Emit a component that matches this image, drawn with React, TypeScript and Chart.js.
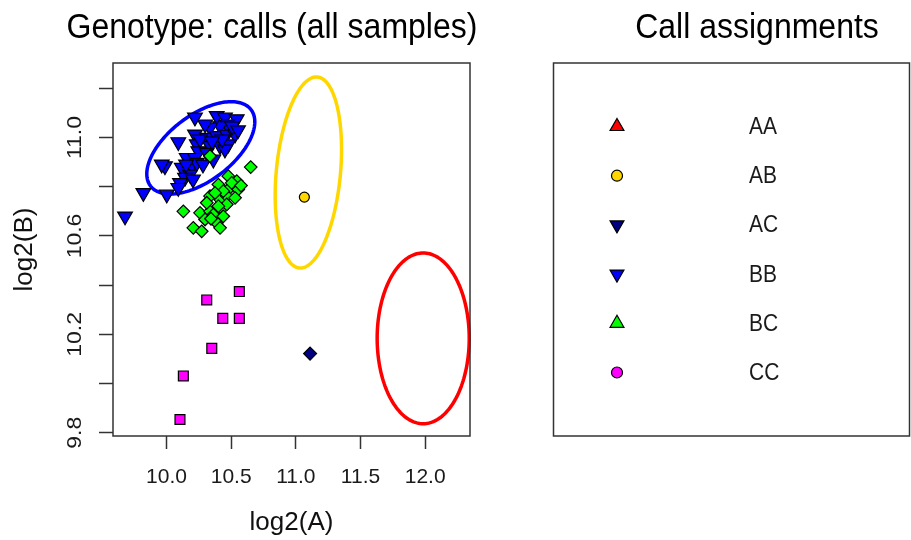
import React, { useEffect, useRef } from 'react';
import { Chart, registerables } from 'chart.js';
import { drawPoint } from 'chart.js/helpers';

Chart.register(...registerables);

const FONT = '"Liberation Sans", Arial, Helvetica, sans-serif';

// ---- data (log2 intensities) ----
const bbX = [10.220, 10.388, 10.452, 10.543, 10.466, 10.414, 10.336, 10.220, 10.311, 10.388, 10.466, 10.530,
  10.091, 10.234, 10.336, 10.414, 10.478, 10.452, 10.246, 10.156, 10.220, 10.311, 10.362, 9.988, 10.118,
  10.195, 10.234, 10.182, 10.143, 10.104, 10.091, 10.002, 9.821, 9.679, 9.963, 10.298, 10.507, 10.259,
  10.429, 10.282, 10.205, 10.151, 10.352, 10.553];
const bbY = [11.082, 11.088, 11.082, 11.075, 11.054, 11.047, 11.041, 11.013, 11.000, 11.007, 11.013, 11.013,
  10.982, 10.973, 10.966, 10.966, 10.973, 10.952, 10.945, 10.918, 10.918, 10.939, 10.911, 10.884, 10.878,
  10.884, 10.898, 10.850, 10.837, 10.816, 10.796, 10.769, 10.775, 10.680, 10.891, 11.054, 11.046, 10.993,
  10.993, 10.891, 10.830, 10.891, 10.985, 11.030];

const bcX = [10.336, 10.651, 10.478, 10.543, 10.401, 10.491, 10.555, 10.336, 10.414, 10.466, 10.530, 10.130,
  10.259, 10.336, 10.427, 10.298, 10.388, 10.414, 10.207, 10.272, 10.362, 10.439, 10.466, 10.504, 10.439,
  10.375, 10.311, 10.401, 10.576, 10.344];
const bcY = [10.925, 10.880, 10.843, 10.823, 10.809, 10.796, 10.789, 10.762, 10.748, 10.762, 10.755, 10.700,
  10.694, 10.700, 10.710, 10.667, 10.653, 10.633, 10.633, 10.619, 10.687, 10.680, 10.728, 10.816, 10.782,
  10.775, 10.735, 10.721, 10.805, 10.670];

const ccX = [10.311, 10.563, 10.435, 10.563, 10.350, 10.130, 10.104];
const ccY = [10.340, 10.374, 10.265, 10.265, 10.143, 10.031, 9.854];

const abX = [11.066];
const abY = [10.758];

const acX = [11.110];
const acY = [10.122];

// ---- axes ----
const xRange = [9.586, 12.347];
const yRange = [9.787, 11.303];
const xTicks = [10.0, 10.5, 11.0, 11.5, 12.0];
const yTicks = [9.8, 10.0, 10.2, 10.4, 10.6, 10.8, 11.0, 11.2];
const yTickLabels = ['9.8', '', '10.2', '', '10.6', '', '11.0', ''];

// ---- cluster ellipses: centre and two conjugate semi-axis vectors (data units) ----
const ellipseColors = ['#0000FF', '#FFD700', '#FF0000'];
const ellipseCenters = [[10.265, 10.958], [11.097, 10.858], [11.985, 10.184]];
const ellipseAxisU = [[0.389, 0.155], [0.0696, 0.388], [0.356, 0]];
const ellipseAxisV = [[-0.152, 0.106], [0.247, -0.0123], [0, 0.347]];

// ---- legend ----
const legendLabels = ['AA', 'AB', 'AC', 'BB', 'BC', 'CC'];
const legendColors = ['#FF0000', '#FFD700', '#000080', '#0000FF', '#00FF00', '#FF00FF'];
const legendShapes = ['triangle', 'circle', 'triangle', 'triangle', 'triangle', 'circle'];
const legendRotation = [0, 0, 180, 180, 0, 0];
const legendRadius = [8, 5.5, 8, 8, 8, 5.5];

const toPts = (xs: number[], ys: number[]) => xs.map((x, i) => ({ x, y: ys[i] }));

// text drawn slightly taller than wide, like the reference rendering
const STRETCH = 1.12;

const ellipsePlugin = {
  id: 'ellipses',
  beforeDatasetsDraw(chart: any) {
    const { ctx, scales } = chart;
    const xs = scales.x;
    const ys = scales.y;
    ctx.save();
    ctx.lineWidth = 3.5;
    for (let e = 0; e < ellipseCenters.length; e++) {
      const [cx, cy] = ellipseCenters[e];
      const u = ellipseAxisU[e];
      const v = ellipseAxisV[e];
      ctx.beginPath();
      for (let k = 0; k <= 180; k++) {
        const t = (k / 180) * Math.PI * 2;
        const dx = cx + Math.cos(t) * u[0] + Math.sin(t) * v[0];
        const dy = cy + Math.cos(t) * u[1] + Math.sin(t) * v[1];
        const px = xs.getPixelForValue(dx);
        const py = ys.getPixelForValue(dy);
        if (k === 0) ctx.moveTo(px, py);
        else ctx.lineTo(px, py);
      }
      ctx.closePath();
      ctx.strokeStyle = ellipseColors[e];
      ctx.stroke();
    }
    ctx.restore();
  },
};

const drawTallText = (ctx: any, text: string, x: number, y: number) => {
  ctx.save();
  ctx.translate(x, y);
  ctx.scale(1, STRETCH);
  ctx.fillText(text, 0, 0);
  ctx.restore();
};

const decorPlugin = {
  id: 'decor',
  afterDraw(chart: any) {
    const { ctx, chartArea, scales } = chart;
    const ys = scales.y;
    ctx.save();
    // plot frame
    ctx.strokeStyle = '#333';
    ctx.lineWidth = 1.5;
    ctx.strokeRect(chartArea.left, chartArea.top, chartArea.right - chartArea.left, chartArea.bottom - chartArea.top);

    // y tick labels (rotated, R style)
    ctx.fillStyle = '#1a1a1a';
    ctx.font = `20px ${FONT}`;
    ctx.textAlign = 'center';
    ctx.textBaseline = 'middle';
    yTicks.forEach((v, i) => {
      const lab = yTickLabels[i];
      if (!lab) return;
      const py = ys.getPixelForValue(v);
      ctx.save();
      ctx.translate(75, py);
      ctx.rotate(-Math.PI / 2);
      ctx.scale(1.15, 1);
      ctx.fillText(lab, 0, 0);
      ctx.restore();
    });

    // titles
    ctx.fillStyle = '#000';
    ctx.font = `32px ${FONT}`;
    ctx.textBaseline = 'alphabetic';
    ctx.textAlign = 'center';
    drawTallText(ctx, 'Genotype: calls (all samples)', 272, 38);
    drawTallText(ctx, 'Call assignments', 757, 38);

    // legend panel
    const lx0 = 553.5;
    const lx1 = 909.5;
    ctx.strokeStyle = '#333';
    ctx.lineWidth = 1.5;
    ctx.strokeRect(lx0, chartArea.top, lx1 - lx0, chartArea.bottom - chartArea.top);
    ctx.font = `21px ${FONT}`;
    ctx.textAlign = 'left';
    ctx.textBaseline = 'middle';
    legendLabels.forEach((lab, i) => {
      const yy = 126.5 + i * 49.2;
      ctx.fillStyle = legendColors[i];
      ctx.strokeStyle = '#000';
      ctx.lineWidth = 1.2;
      drawPoint(ctx, { pointStyle: legendShapes[i], rotation: legendRotation[i], radius: legendRadius[i], borderWidth: 1.2 } as any, 617, yy);
      ctx.fillStyle = '#1a1a1a';
      drawTallText(ctx, lab, 749, yy + 1);
    });
    ctx.restore();
  },
};

export default function App() {
  const ref = useRef<HTMLCanvasElement>(null);
  useEffect(() => {
    if (!ref.current) return;
    const pointBase = { borderColor: '#000', borderWidth: 1.2, pointBorderWidth: 1.2 };
    const chart = new Chart(ref.current, {
      type: 'scatter',
      data: {
        datasets: [
          { label: 'AB', data: toPts(abX, abY), pointStyle: 'circle', pointRadius: 5, backgroundColor: '#FFD700', order: 0, ...pointBase },
          { label: 'AC', data: toPts(acX, acY), pointStyle: 'rectRot', pointRadius: 6.5, backgroundColor: '#000080', order: 1, ...pointBase },
          { label: 'CC', data: toPts(ccX, ccY), pointStyle: 'rect', pointRadius: 7, backgroundColor: '#FF00FF', order: 2, ...pointBase },
          { label: 'BC', data: toPts(bcX, bcY), pointStyle: 'rectRot', pointRadius: 6.3, backgroundColor: '#00FF00', order: 3, ...pointBase },
          { label: 'BB', data: toPts(bbX, bbY), pointStyle: 'triangle', rotation: 180, pointRadius: 8.5, backgroundColor: '#0000FF', order: 4, ...pointBase },
        ] as any,
      },
      options: {
        animation: false,
        responsive: false,
        events: [],
        layout: { padding: { left: 0, top: 63, right: 441, bottom: 0 } },
        plugins: { legend: { display: false }, tooltip: { enabled: false } },
        scales: {
          x: {
            type: 'linear',
            min: xRange[0],
            max: xRange[1],
            afterBuildTicks: (s: any) => { s.ticks = xTicks.map((v) => ({ value: v })); },
            afterFit: (s: any) => { s.height = 104; },
            grid: { drawOnChartArea: false, drawTicks: true, tickLength: 13, tickColor: '#333', tickWidth: 1.5 },
            border: { display: false },
            ticks: {
              font: { family: FONT, size: 21 },
              color: '#1a1a1a',
              padding: 16,
              maxRotation: 0,
              autoSkip: false,
              callback: (v: any) => Number(v).toFixed(1),
            },
            title: { display: true, text: 'log2(A)', font: { family: FONT, size: 26 }, color: '#111', padding: { top: 0, bottom: 2 } },
          },
          y: {
            type: 'linear',
            min: yRange[0],
            max: yRange[1],
            afterBuildTicks: (s: any) => { s.ticks = yTicks.map((v) => ({ value: v })); },
            afterFit: (s: any) => { s.width = 113; },
            grid: { drawOnChartArea: false, drawTicks: true, tickLength: 14, tickColor: '#333', tickWidth: 1.5 },
            border: { display: false },
            ticks: { display: false },
            title: { display: true, text: 'log2(B)', font: { family: FONT, size: 26 }, color: '#111', padding: { top: 9, bottom: 0 } },
          },
        },
      } as any,
      plugins: [ellipsePlugin, decorPlugin],
    });
    return () => chart.destroy();
  }, []);
  return (
    <div style={{ position: 'absolute', left: 0, top: 0, width: 911, height: 540, background: '#fff' }}>
      <canvas ref={ref} width={911} height={540} style={{ display: 'block' }} />
    </div>
  );
}
